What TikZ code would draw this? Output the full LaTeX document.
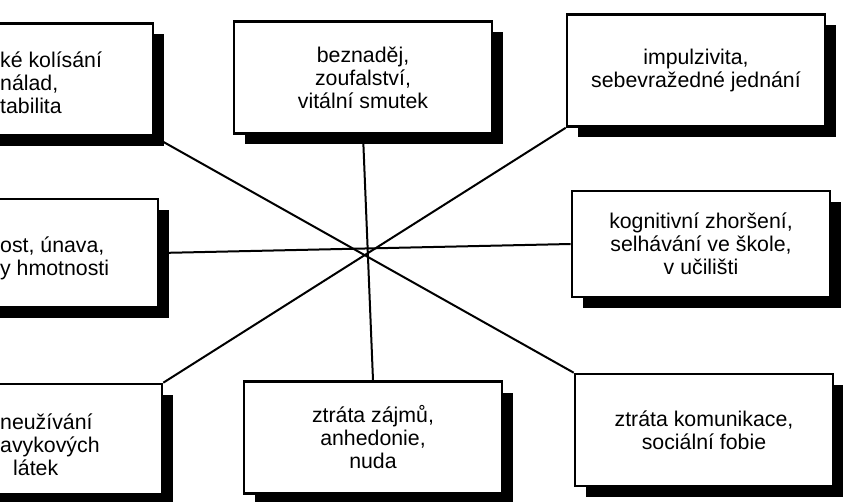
\documentclass[tikz,border=0pt]{standalone}
\usepackage{fontspec}
\setmainfont{Liberation Sans}
\usetikzlibrary{shadows, backgrounds}

\begin{document}
\begin{tikzpicture}[x=1pt, y=-1pt,
	every node/.style={font=\fontsize{21.3}{23}\selectfont},
	symptom/.style={draw, line width=2.6pt, fill=white, minimum width=258pt, minimum height=112pt, align=center,
		drop shadow={shadow xshift=11pt, shadow yshift=-11pt, fill=black, opacity=1}},
	cutoff/.style={align=left, anchor=west, inner sep=0pt},
	spoke/.style={line width=2pt}]
	\useasboundingbox (0,0) rectangle (843,502);
	% boxes cut off by the left edge
	\node[symptom] (tl) at (24,79.5) {};
	\node[cutoff] at (0,83) {ké kolísání\\nálad,\\tabilita};
	\node[symptom, minimum height=108pt] (ml) at (29,253) {};
	\node[cutoff] at (0,258) {ost, únava,\\y hmotnosti};
	\node[symptom, minimum height=110pt] (bl) at (33,439) {};
	\node[cutoff] at (0,445) {neužívání\\avykových\\\hspace*{13pt}látek};
	% boxes in full
	\node[symptom] (tc) at (363,77.5) {beznaděj,\\zoufalství,\\vitální smutek};
	\node[symptom] (tr) at (696,70.5) {impulzivita,\\sebevražedné jednání};
	\node[symptom, minimum height=106pt] (mr) at (701,244) {kognitivní zhoršení,\\selhávání ve škole,\\v učilišti};
	\node[symptom] (bc) at (373,437.5) {ztráta zájmů,\\anhedonie,\\nuda};
	\node[symptom] (br) at (704,430) {ztráta komunikace,\\sociální fobie};
	\begin{scope}[on background layer]
		\draw[spoke] (tl.south east) -- (br.north west);
		\draw[spoke] (tr.south west) -- (bl.north east);
		\draw[spoke] (tc.south) -- (bc.north);
		\draw[spoke] (ml.east) -- (mr.west);
	\end{scope}
\end{tikzpicture}
\end{document}
